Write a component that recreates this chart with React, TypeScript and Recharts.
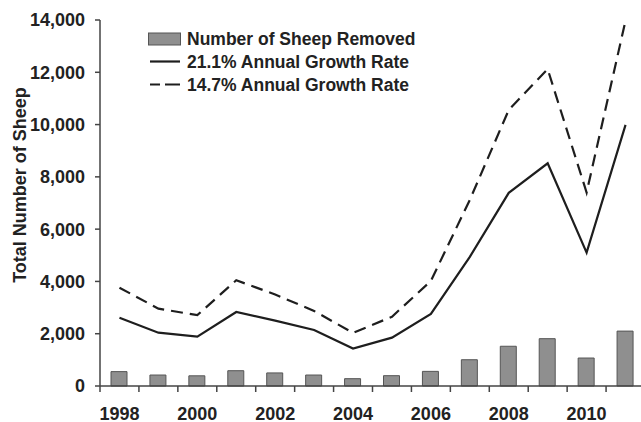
import React from 'react';
import { ComposedChart, Bar, Line, XAxis, YAxis, Legend } from 'recharts';

const years = [1998, 1999, 2000, 2001, 2002, 2003, 2004, 2005, 2006, 2007, 2008, 2009, 2010, 2011];
const sheepRemoved = [550, 420, 390, 585, 500, 420, 280, 395, 560, 1005, 1520, 1810, 1070, 2100];
const growth211 = [2610, 2040, 1890, 2830, 2500, 2140, 1430, 1850, 2760, 4940, 7390, 8520, 5100, 9990];
const growth147 = [3760, 2960, 2710, 4045, 3500, 2870, 2030, 2650, 4020, 7120, 10560, 12120, 7400, 13980];

const yTicks = [0, 2000, 4000, 6000, 8000, 10000, 12000, 14000];
const yearLabelTicks = [1998, 2000, 2002, 2004, 2006, 2008, 2010];
const yearBoundaryTicks = [1997.5, 1998.5, 1999.5, 2000.5, 2001.5, 2002.5, 2003.5, 2004.5, 2005.5, 2006.5, 2007.5, 2008.5, 2009.5, 2010.5, 2011.5];
const xTicks = [...yearBoundaryTicks, ...yearLabelTicks].sort((a, b) => a - b);

const seriesNames = ['Number of Sheep Removed', '21.1% Annual Growth Rate', '14.7% Annual Growth Rate'];
const yAxisTitle = 'Total Number of Sheep';

const data = years.map((year, i) => ({
  year,
  removed: sheepRemoved[i],
  g211: growth211[i],
  g147: growth147[i],
}));

const FONT = '"Liberation Sans", Arial, Helvetica, sans-serif';
const TEXT = '#222';
const AXIS = '#444';
const BAR_FILL = '#8f8f8f';
const BAR_STROKE = '#555';
const LINE = '#1e1e1e';

const tickStyle = { fill: TEXT, fontSize: 18, fontWeight: 'bold' as const, fontFamily: FONT };

const XTick = (props: any) => {
  const { x, y, payload } = props;
  const v = payload?.value;
  if (yearLabelTicks.includes(v)) {
    return (
      <text x={x} y={y + 21} dy="0.71em" textAnchor="middle" fill={TEXT} fontSize={18} fontWeight="bold" fontFamily={FONT}>
        {String(v)}
      </text>
    );
  }
  return <line x1={x} x2={x} y1={y} y2={y + 6} stroke={AXIS} strokeWidth={1.5} />;
};

const LegendContent = () => (
  <div style={{ fontFamily: FONT, fontWeight: 'bold', fontSize: 17.5, color: TEXT, lineHeight: '23px', whiteSpace: 'nowrap' }}>
    <div style={{ display: 'flex', alignItems: 'center', height: 23 }}>
      <svg width={39} height={23} style={{ display: 'block' }}>
        <rect x={0.5} y={5} width={32} height={12} fill={BAR_FILL} stroke={BAR_STROKE} strokeWidth={1} />
      </svg>
      <span>{seriesNames[0]}</span>
    </div>
    <div style={{ display: 'flex', alignItems: 'center', height: 23 }}>
      <svg width={39} height={23} style={{ display: 'block' }}>
        <line x1={2} x2={32} y1={10.5} y2={10.5} stroke={LINE} strokeWidth={2.2} />
      </svg>
      <span>{seriesNames[1]}</span>
    </div>
    <div style={{ display: 'flex', alignItems: 'center', height: 23 }}>
      <svg width={39} height={23} style={{ display: 'block' }}>
        <line x1={2} x2={32} y1={10.5} y2={10.5} stroke={LINE} strokeWidth={2.2} strokeDasharray="10 5 15" />
      </svg>
      <span>{seriesNames[2]}</span>
    </div>
  </div>
);

const YTitle = () => (
  <text
    x={20}
    y={185}
    transform="rotate(-90, 20, 185)"
    textAnchor="middle"
    dominantBaseline="central"
    fill={TEXT}
    fontSize={18}
    fontWeight="bold"
    fontFamily={FONT}
  >
    {yAxisTitle}
  </text>
);

export default function App() {
  return (
    <div style={{ position: 'absolute', left: 0, top: 0, width: 641, height: 422, overflow: 'hidden', background: '#fff' }}>
      <ComposedChart width={645} height={422} data={data} margin={{ top: 20, right: 0, bottom: 0, left: 0 }}>
        <XAxis
          type="number"
          dataKey="year"
          domain={[1997.5, 2011.5]}
          ticks={xTicks}
          interval={0}
          tick={<XTick />}
          tickLine={false}
          tickSize={0}
          tickMargin={0}
          height={36}
          axisLine={{ stroke: AXIS, strokeWidth: 1.5 }}
        />
        <YAxis
          type="number"
          width={100}
          domain={[0, 14000]}
          ticks={yTicks}
          interval={0}
          tickFormatter={(v: number) => v.toLocaleString('en-US')}
          tick={tickStyle}
          tickSize={5}
          tickMargin={10}
          axisLine={{ stroke: AXIS, strokeWidth: 1.5 }}
          tickLine={{ stroke: AXIS, strokeWidth: 1.5 }}
          label={{ content: () => <YTitle /> }}
        />
        <Legend
          layout="vertical"
          align="center"
          verticalAlign="middle"
          content={() => <LegendContent />}
          wrapperStyle={{ position: 'absolute', left: 148, top: 28, width: 320, height: 69 }}
        />
        <Bar dataKey="removed" name={seriesNames[0]} barSize={16} fill={BAR_FILL} stroke={BAR_STROKE} strokeWidth={1} isAnimationActive={false} />
        <Line type="linear" dataKey="g211" name={seriesNames[1]} stroke={LINE} strokeWidth={2.2} dot={false} activeDot={false} isAnimationActive={false} />
        <Line type="linear" dataKey="g147" name={seriesNames[2]} stroke={LINE} strokeWidth={2.2} strokeDasharray="12 7" dot={false} activeDot={false} isAnimationActive={false} />
      </ComposedChart>
    </div>
  );
}
